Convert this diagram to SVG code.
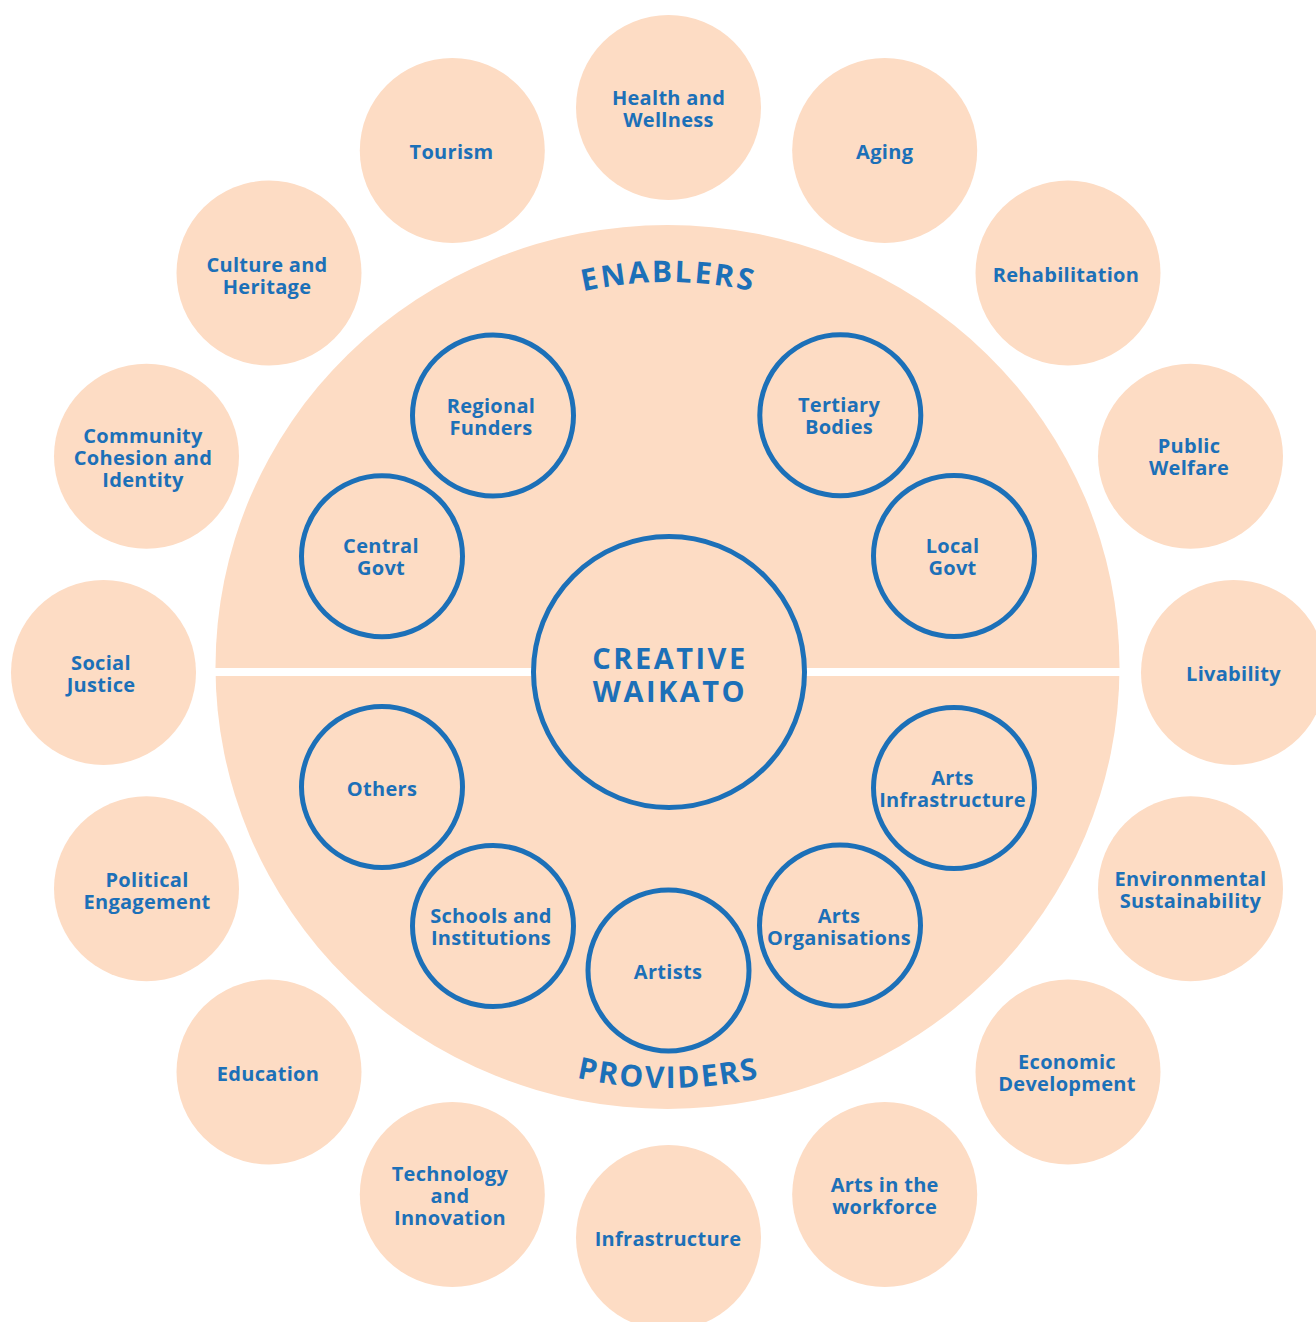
<svg xmlns="http://www.w3.org/2000/svg" width="1316" height="1322" viewBox="0 0 1316 1322">
<style>
.outer{fill:#FDDCC4;}
.inner{fill:#FDDCC4;stroke:#1C70B8;stroke-width:5;}
.lbl{font-family:"Open Sans","Liberation Sans",sans-serif;font-weight:700;font-size:20px;fill:#1C70B8;text-anchor:middle;letter-spacing:0.3px;}
.big{font-family:"Open Sans","Liberation Sans",sans-serif;font-weight:700;font-size:30px;fill:#1C70B8;text-anchor:middle;}
</style>
<defs>
<path id="arcTop" d="M 278.5 672 A 390 390 0 0 1 1058.5 672"/>
<path id="arcBottom" d="M 252.5 672 A 416 416 0 0 0 1084.5 672"/>
</defs>
<rect width="1316" height="1322" fill="#FFFFFF"/>

<g id="background">
<ellipse cx="667.5" cy="667" rx="452" ry="442" fill="#FDDCC4"/>
<rect x="205" y="668" width="925" height="8" fill="#FFFFFF"/>
<text class="big" letter-spacing="2.5"><textPath href="#arcTop" startOffset="50%">ENABLERS</textPath></text>
<text class="big" letter-spacing="2"><textPath href="#arcBottom" startOffset="50%">PROVIDERS</textPath></text>
</g>

<g id="center">
<circle class="inner" cx="669" cy="672" r="135.5"/>
<text class="big" font-size="29" style="font-size:29px" letter-spacing="2.5"><tspan x="670" y="669">CREATIVE</tspan><tspan x="670" y="702">WAIKATO</tspan></text>
</g>

<g id="outer-health"><circle class="outer" cx="668.5" cy="107.5" r="92.5"/><text class="lbl"><tspan x="668.5" y="104.5">Health and</tspan><tspan x="668.5" y="126.5">Wellness</tspan></text></g>
<g id="outer-aging"><circle class="outer" cx="884.7" cy="150.5" r="92.5"/><text class="lbl"><tspan x="884.7" y="159">Aging</tspan></text></g>
<g id="outer-rehabilitation"><circle class="outer" cx="1068" cy="273" r="92.5"/><text class="lbl"><tspan x="1066" y="281.5">Rehabilitation</tspan></text></g>
<g id="outer-public-welfare"><circle class="outer" cx="1190.5" cy="456.3" r="92.5"/><text class="lbl"><tspan x="1189" y="453">Public</tspan><tspan x="1189" y="475">Welfare</tspan></text></g>
<g id="outer-livability"><circle class="outer" cx="1233.5" cy="672.5" r="92.5"/><text class="lbl"><tspan x="1233.5" y="681">Livability</tspan></text></g>
<g id="outer-environmental"><circle class="outer" cx="1190.5" cy="888.7" r="92.5"/><text class="lbl"><tspan x="1190.5" y="885.7">Environmental</tspan><tspan x="1190.5" y="907.7">Sustainability</tspan></text></g>
<g id="outer-economic"><circle class="outer" cx="1068" cy="1072" r="92.5"/><text class="lbl"><tspan x="1067" y="1069">Economic</tspan><tspan x="1067" y="1091">Development</tspan></text></g>
<g id="outer-arts-workforce"><circle class="outer" cx="884.7" cy="1194.5" r="92.5"/><text class="lbl"><tspan x="884.7" y="1191.5">Arts in the</tspan><tspan x="884.7" y="1213.5">workforce</tspan></text></g>
<g id="outer-infrastructure"><circle class="outer" cx="668.5" cy="1237.5" r="92.5"/><text class="lbl"><tspan x="668" y="1246">Infrastructure</tspan></text></g>
<g id="outer-technology"><circle class="outer" cx="452.3" cy="1194.5" r="92.5"/><text class="lbl"><tspan x="450" y="1181">Technology</tspan><tspan x="450" y="1203">and</tspan><tspan x="450" y="1225">Innovation</tspan></text></g>
<g id="outer-education"><circle class="outer" cx="269" cy="1072" r="92.5"/><text class="lbl"><tspan x="268" y="1080.5">Education</tspan></text></g>
<g id="outer-political"><circle class="outer" cx="146.5" cy="888.7" r="92.5"/><text class="lbl"><tspan x="147" y="887">Political</tspan><tspan x="147" y="909">Engagement</tspan></text></g>
<g id="outer-social-justice"><circle class="outer" cx="103.5" cy="672.5" r="92.5"/><text class="lbl"><tspan x="101" y="669.5">Social</tspan><tspan x="101" y="691.5">Justice</tspan></text></g>
<g id="outer-community"><circle class="outer" cx="146.5" cy="456.3" r="92.5"/><text class="lbl"><tspan x="143" y="442.8">Community</tspan><tspan x="143" y="464.8">Cohesion and</tspan><tspan x="143" y="486.8">Identity</tspan></text></g>
<g id="outer-culture"><circle class="outer" cx="269" cy="273" r="92.5"/><text class="lbl"><tspan x="267" y="272">Culture and</tspan><tspan x="267" y="294">Heritage</tspan></text></g>
<g id="outer-tourism"><circle class="outer" cx="452.3" cy="150.5" r="92.5"/><text class="lbl"><tspan x="451.5" y="159">Tourism</tspan></text></g>

<g id="inner-regional-funders"><circle class="inner" cx="493" cy="415.5" r="80.5"/><text class="lbl"><tspan x="491" y="412.5">Regional</tspan><tspan x="491" y="434.5">Funders</tspan></text></g>
<g id="inner-tertiary-bodies"><circle class="inner" cx="840.3" cy="415.3" r="80.5"/><text class="lbl"><tspan x="839" y="412.3">Tertiary</tspan><tspan x="839" y="434.3">Bodies</tspan></text></g>
<g id="inner-central-govt"><circle class="inner" cx="382" cy="556.3" r="80.5"/><text class="lbl"><tspan x="381" y="553.3">Central</tspan><tspan x="381" y="575.3">Govt</tspan></text></g>
<g id="inner-local-govt"><circle class="inner" cx="954" cy="556" r="80.5"/><text class="lbl"><tspan x="952.5" y="553">Local</tspan><tspan x="952.5" y="575">Govt</tspan></text></g>
<g id="inner-others"><circle class="inner" cx="382" cy="787" r="80.5"/><text class="lbl"><tspan x="382" y="796">Others</tspan></text></g>
<g id="inner-arts-infrastructure"><circle class="inner" cx="954" cy="788" r="80.5"/><text class="lbl"><tspan x="952.5" y="784.5">Arts</tspan><tspan x="952.5" y="807">Infrastructure</tspan></text></g>
<g id="inner-schools"><circle class="inner" cx="493" cy="926" r="80.5"/><text class="lbl"><tspan x="491" y="923">Schools and</tspan><tspan x="491" y="945">Institutions</tspan></text></g>
<g id="inner-arts-organisations"><circle class="inner" cx="840" cy="925.5" r="80.5"/><text class="lbl"><tspan x="839" y="922.5">Arts</tspan><tspan x="839" y="944.5">Organisations</tspan></text></g>
<g id="inner-artists"><circle class="inner" cx="668.5" cy="970.5" r="80.5"/><text class="lbl"><tspan x="668" y="978.5">Artists</tspan></text></g>
</svg>
